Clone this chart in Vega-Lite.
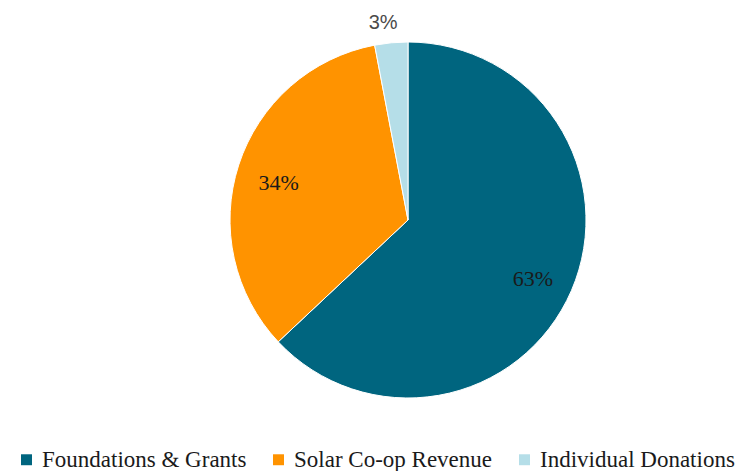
{
  "$schema": "https://vega.github.io/schema/vega-lite/v6.json",
  "autosize": {"type": "none"},
  "padding": {"left": 78, "top": 0, "right": 0, "bottom": 31},
  "width": 660,
  "height": 440,
  "background": "white",
  "config": {"view": {"stroke": null}},
  "data": {"values": [
    {"source": "Foundations & Grants", "pct": 63, "ord": 1, "label": "63%"},
    {"source": "Solar Co-op Revenue", "pct": 34, "ord": 2, "label": "34%"},
    {"source": "Individual Donations", "pct": 3, "ord": 3, "label": "3%"}
  ]},
  "transform": [
    {"stack": "pct", "groupby": [], "sort": [{"field": "ord", "order": "ascending"}], "as": ["p0", "p1"]},
    {"calculate": "(datum.p0 + datum.p1) / 2", "as": "pmid"}
  ],
  "layer": [
    {
      "mark": {"type": "arc", "outerRadius": 178, "stroke": "white", "strokeWidth": 1},
      "encoding": {
        "theta": {"field": "p0", "type": "quantitative", "scale": {"domain": [0, 100]}},
        "theta2": {"field": "p1"},
        "color": {
          "field": "source", "type": "nominal",
          "scale": {"domain": ["Foundations & Grants", "Solar Co-op Revenue", "Individual Donations"], "range": ["#00657F", "#FF9300", "#B5DEE8"]},
          "legend": {
            "title": null, "orient": "none", "direction": "horizontal",
            "legendX": -63, "legendY": 448,
            "symbolType": "square", "symbolSize": 120, "symbolStrokeWidth": 0,
            "labelFont": "Liberation Serif", "labelFontSize": 23, "labelColor": "#1a1a1a",
            "labelOffset": 4, "columnPadding": 20, "labelLimit": 400
          }
        }
      }
    },
    {
      "transform": [{"filter": "datum.ord != 3"}],
      "mark": {"type": "text", "font": "Liberation Serif", "fontSize": 22, "radius": 136, "dy": 5, "color": "#1a1a1a"},
      "encoding": {
        "theta": {"field": "pmid", "type": "quantitative"},
        "text": {"field": "label"}
      }
    },
    {
      "transform": [{"filter": "datum.ord == 3"}],
      "mark": {"type": "text", "font": "Liberation Sans", "fontSize": 20, "radius": 200, "dx": -6, "dy": 2, "color": "#4a4a4a"},
      "encoding": {
        "theta": {"field": "pmid", "type": "quantitative"},
        "text": {"field": "label"}
      }
    }
  ]
}
